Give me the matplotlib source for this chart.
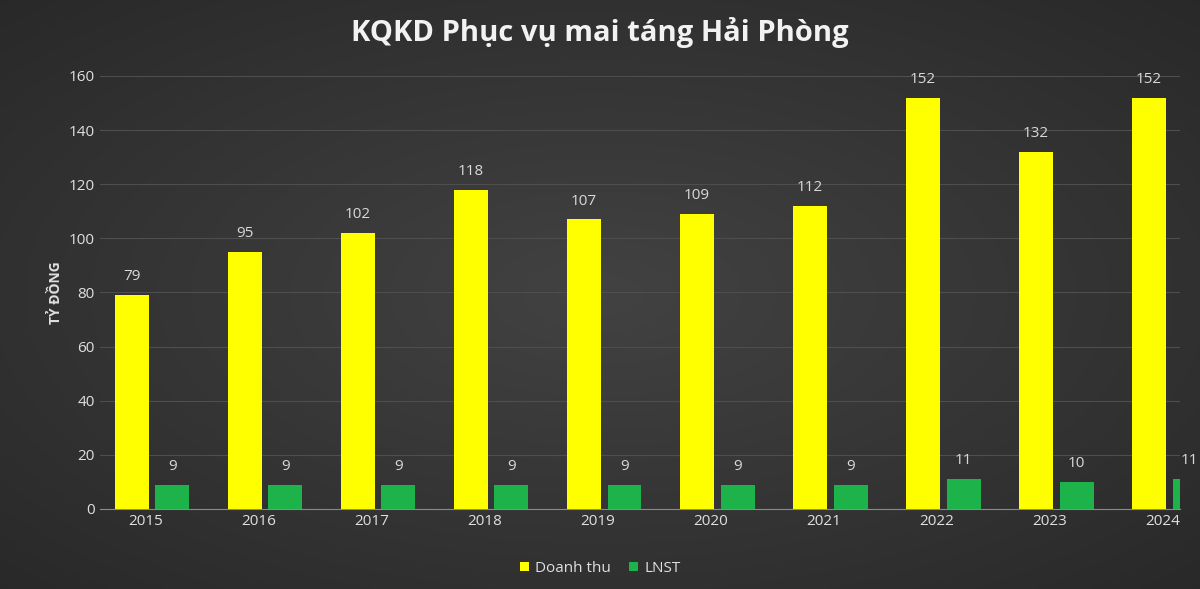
import matplotlib
matplotlib.use("Agg")
import matplotlib.pyplot as plt
import numpy as np

years = ["2015","2016","2017","2018","2019","2020","2021","2022","2023","2024"]
doanh_thu = [79, 95, 102, 118, 107, 109, 112, 152, 132, 152]
lnst = [9, 9, 9, 9, 9, 9, 9, 11, 10, 11]

plt.rcParams['font.family'] = ['Open Sans', 'DejaVu Sans']
fig = plt.figure(figsize=(12, 5.89), dpi=100)

bg = fig.add_axes([0, 0, 1, 1], zorder=-10)
yy, xx = np.mgrid[-1:1:300j, -1:1:600j]
r = np.sqrt(xx**2 + yy**2) / np.sqrt(2)
img = 0.26 - 0.10 * r
bg.imshow(np.dstack([img, img, img]), aspect='auto', extent=[0, 1, 0, 1])
bg.axis('off')

ax = fig.add_axes([0.083, 0.136, 0.9, 0.735])
ax.set_facecolor('none')
x = np.arange(len(years))
w = 0.30
b1 = ax.bar(x, doanh_thu, w, color='#ffff00', label='Doanh thu', zorder=3)
b2 = ax.bar(x + 0.36, lnst, w, color='#1db34a', label='LNST', zorder=3)
for b, v in zip(b1, doanh_thu):
    ax.text(b.get_x() + b.get_width()/2, v + 4, str(v), ha='center', va='bottom', color='#d9d9d9', fontsize=11)
for b, v in zip(b2, lnst):
    ax.text(b.get_x() + b.get_width()/2, v + 4, str(v), ha='center', va='bottom', color='#d9d9d9', fontsize=11)

ax.set_xlim(-0.283, 9.27)
ax.set_ylim(0, 160)
ax.set_yticks(range(0, 161, 20))
ax.set_xticks(x + 0.12)
ax.set_xticklabels(years)
ax.tick_params(colors='#e0e0e0', labelsize=11, length=0)
ax.grid(axis='y', color='#4e4e4e', linewidth=0.8, zorder=0)
for s in ['top', 'right', 'left']:
    ax.spines[s].set_visible(False)
ax.spines['bottom'].set_color('#8a8a8a')
ax.set_ylabel('TỶ ĐỒNG', color='#e0e0e0', fontsize=10, fontweight='bold')

fig.text(0.5, 0.945, 'KQKD Phục vụ mai táng Hải Phòng', ha='center', va='center',
         color='#f2f2f2', fontsize=21, fontweight='bold')
leg = fig.legend(handles=[b1, b2], loc='center', bbox_to_anchor=(0.5, 0.035), ncol=2,
                 frameon=False, fontsize=11, handlelength=0.6, handleheight=0.6, columnspacing=1.2,
                 handletextpad=0.4)
for t in leg.get_texts():
    t.set_color('#e0e0e0')
fig.savefig('out.png', dpi=100)
